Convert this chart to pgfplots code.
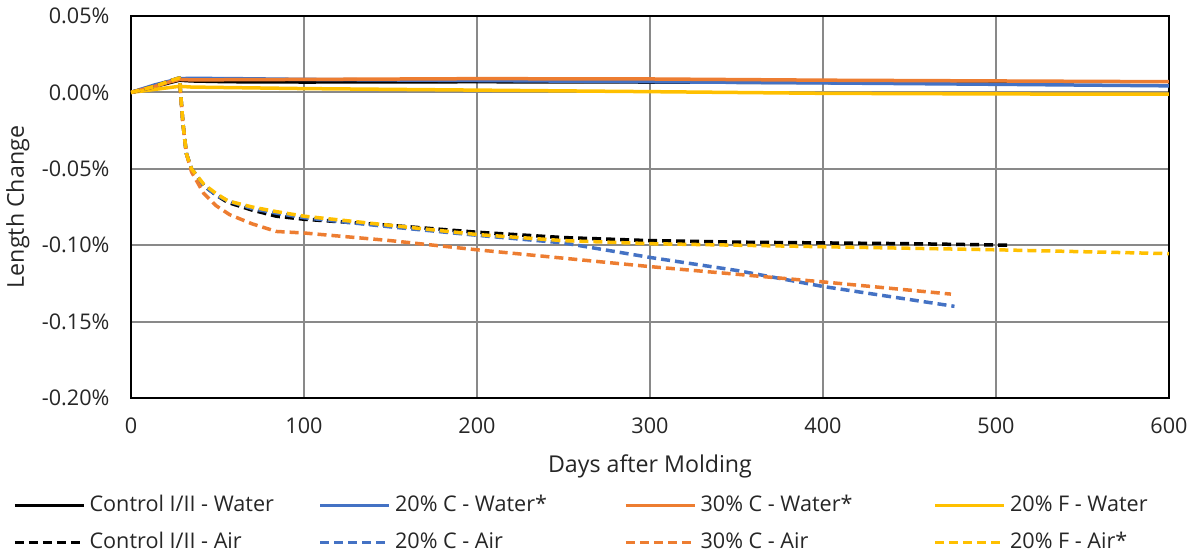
\documentclass[border=0pt]{standalone}
\usepackage{pgfplots}
\pgfplotsset{compat=1.18}
\usepackage{fontspec}
\setmainfont{Open Sans}
\definecolor{cblue}{HTML}{4472C4}
\definecolor{corange}{HTML}{ED7D31}
\definecolor{cyellow}{HTML}{FFC000}
\definecolor{cgrid}{RGB}{137,137,137}
\definecolor{ctext}{RGB}{38,38,38}
\begin{document}
\fontsize{10.8}{13}\selectfont
\begin{tikzpicture}
\path[use as bounding box] (-65.5pt,-78pt) rectangle (532.5pt,199pt);
\begin{axis}[
  at={(0pt,0pt)}, anchor=south west,
  scale only axis, width=519pt, height=191pt,
  xmin=0, xmax=600, ymin=-0.2, ymax=0.05,
  xtick={0,100,...,600},
  ytick={-0.2,-0.15,-0.1,-0.05,0,0.05},
  yticklabels={-0.20\%,-0.15\%,-0.10\%,-0.05\%,0.00\%,0.05\%},
  /pgf/number format/assume math mode=true,
  xticklabel style={yshift=-6pt, text=ctext},
  yticklabel style={xshift=-7pt, text=ctext},
  grid=major,
  major grid style={color=cgrid, line width=1pt},
  axis line style={line width=1pt, black},
  tick style={draw=none},
  xlabel={Days after Molding},
  ylabel={Length Change},
  xlabel style={at={(axis description cs:0.5,-0.178)}, anchor=center, text=ctext, font=\fontsize{11.6}{14}\selectfont},
  ylabel style={at={(axis description cs:-0.1089,0.5)}, anchor=center, text=ctext, font=\fontsize{11.6}{14}\selectfont},
  legend columns=4,
  legend image code/.code={\draw[#1] (0pt,0pt) -- (34.5pt,0pt);},
  legend style={at={(axis description cs:-0.114,-0.251)}, anchor=north west,
    draw=none, fill=none, inner sep=0pt, column sep=0pt, row sep=7.5pt,
    nodes={inner xsep=2pt, inner ysep=0pt, text height=8.5pt, text depth=2.5pt, anchor=west, text=ctext}},
  every axis plot/.append style={line width=1.75pt, line join=round},
  airdash/.style={dash pattern=on 4.5pt off 2.5pt},
]
% Water series
\addplot[black] coordinates {(0,0)(7,0.002)(14,0.004)(21,0.006)(28,0.008)(35,0.0075)(56,0.007)(100,0.0068)(200,0.007)(300,0.0068)(400,0.0065)(510,0.006)};
\addlegendentry{\makebox[112.5pt][l]{Control I/II - Water}}
\addplot[cblue] coordinates {(0,0)(7,0.0025)(14,0.005)(21,0.007)(28,0.009)(35,0.0092)(60,0.009)(100,0.0085)(200,0.0078)(300,0.007)(400,0.0062)(500,0.0053)(600,0.0043)};
\addlegendentry{\makebox[112.5pt][l]{20\% C - Water*}}
\addplot[corange] coordinates {(0,0)(7,0.002)(14,0.004)(21,0.0065)(28,0.0085)(35,0.0082)(100,0.0085)(200,0.009)(300,0.0088)(400,0.008)(500,0.0075)(600,0.007)};
\addlegendentry{\makebox[114.5pt][l]{30\% C - Water*}}
\addplot[cyellow] coordinates {(0,0)(7,0.001)(14,0.002)(21,0.003)(28,0.004)(35,0.0035)(100,0.0025)(200,0.0015)(300,0.0005)(400,-0.0006)(500,-0.001)(600,-0.0012)};
\addlegendentry{20\% F - Water}
% Air series
\addplot[black, airdash] coordinates {(0,0)(7,0.002)(14,0.004)(21,0.007)(28,0.0095)(30,-0.02)(32,-0.04)(35,-0.05)(42,-0.061)(49,-0.067)(56,-0.072)(70,-0.077)(84,-0.081)(100,-0.083)(150,-0.087)(200,-0.0915)(250,-0.095)(300,-0.097)(350,-0.098)(400,-0.0985)(450,-0.099)(509,-0.1)};
\addlegendentry{Control I/II - Air}
\addplot[cblue, airdash] coordinates {(0,0)(7,0.002)(14,0.004)(21,0.007)(28,0.0095)(30,-0.02)(32,-0.04)(35,-0.05)(42,-0.061)(49,-0.067)(56,-0.071)(70,-0.076)(84,-0.079)(100,-0.082)(150,-0.088)(200,-0.0935)(250,-0.0985)(300,-0.108)(350,-0.1165)(400,-0.127)(476,-0.14)};
\addlegendentry{20\% C - Air}
\addplot[corange, airdash] coordinates {(0,0)(7,0.002)(14,0.004)(21,0.0065)(28,0.009)(30,-0.02)(32,-0.04)(35,-0.052)(42,-0.066)(49,-0.074)(57,-0.08)(70,-0.086)(84,-0.091)(100,-0.092)(150,-0.097)(200,-0.103)(250,-0.1085)(300,-0.114)(350,-0.119)(400,-0.124)(474,-0.132)};
\addlegendentry{30\% C - Air}
\addplot[cyellow, airdash] coordinates {(0,0)(7,0.002)(14,0.004)(21,0.007)(28,0.0095)(30,-0.02)(32,-0.04)(35,-0.05)(42,-0.06)(49,-0.066)(56,-0.071)(70,-0.075)(84,-0.078)(100,-0.081)(150,-0.087)(200,-0.093)(250,-0.097)(300,-0.099)(400,-0.101)(500,-0.103)(600,-0.1055)};
\addlegendentry{20\% F - Air*}
\end{axis}
\end{tikzpicture}
\end{document}
